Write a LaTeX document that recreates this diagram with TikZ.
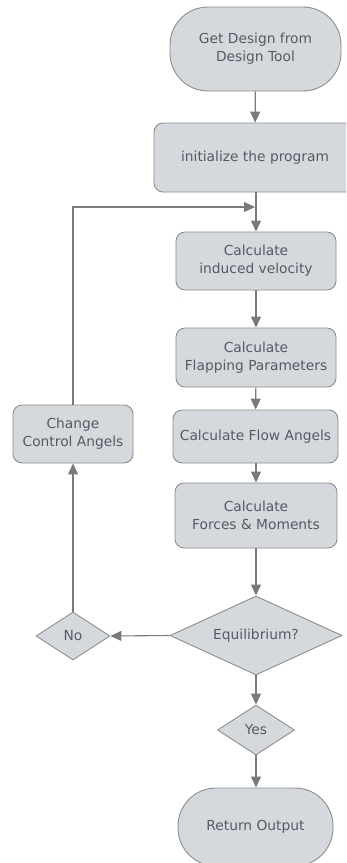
\documentclass[tikz,border=0pt]{standalone}
\usepackage{fontspec}
\setmainfont{DejaVu Sans}
\usetikzlibrary{shapes.geometric,arrows.meta}
\definecolor{boxfill}{HTML}{D5D9DE}
\definecolor{boxline}{HTML}{8E8E8E}
\definecolor{arrowc}{HTML}{7A7A7A}
\definecolor{textc}{HTML}{545B63}
\tikzset{
  base/.style={draw=boxline, fill=boxfill, line width=0.9pt, text=textc, align=center,
    font=\fontsize{13.8}{18}\selectfont, inner sep=0pt},
  procbox/.style={base, rectangle, rounded corners=9pt},
  termbox/.style={base, rectangle, rounded corners=38pt},
  decbox/.style={base, diamond},
  flow/.style={draw=arrowc, line width=1.1pt, -{Triangle[length=11pt,width=10pt]}},
}
\begin{document}
\begin{tikzpicture}[x=1pt,y=-1pt]
\clip (0,0) rectangle (346,863);
\fill[white] (0,0) rectangle (346,863);
\node[termbox, minimum width=171pt, minimum height=84pt] (start) at (255.5,49) {Get Design from\\Design Tool};
\node[procbox, minimum width=202pt, minimum height=69pt] (init) at (255,157.5) {initialize the program};
\node[procbox, minimum width=160pt, minimum height=58pt] (vel) at (256,261) {Calculate\\induced velocity};
\node[procbox, minimum width=160pt, minimum height=59pt] (flap) at (256,357.5) {Calculate\\Flapping Parameters};
\node[procbox, minimum width=165pt, minimum height=53pt] (flowa) at (255.5,436.5) {Calculate Flow Angels};
\node[procbox, minimum width=162pt, minimum height=65pt] (forces) at (256,515.5) {Calculate\\Forces \& Moments};
\node[decbox, minimum width=172pt, minimum height=79pt, shape aspect=2.18] (eq) at (256,635.5) {Equilibrium?};
\node[decbox, minimum width=74pt, minimum height=48pt, shape aspect=1.54] (no) at (73,636) {No};
\node[procbox, minimum width=120pt, minimum height=58pt] (change) at (73,434) {Change\\Control Angels};
\node[decbox, minimum width=77pt, minimum height=50pt, shape aspect=1.54] (yes) at (256,730) {Yes};
\node[termbox, minimum width=155pt, minimum height=78pt] (ret) at (255.5,827) {Return Output};
\coordinate (j) at (255,207);
\draw[flow] (start) -- (init);
\draw[flow] (init.south -| vel.north) -- (vel.north);
\draw[flow] (vel) -- (flap);
\draw[flow] (flap) -- (flowa);
\draw[flow] (flowa.south -| forces.north) -- (forces.north);
\draw[flow] (forces) -- (eq);
\draw[flow] (eq.west) -- (no.east);
\draw[flow] (no.north) -- (change.south);
\draw[flow] (change.north) |- (j);
\draw[flow] (eq.south) -- (yes.north);
\draw[flow] (yes.south) -- (ret.north -| yes.south);
\end{tikzpicture}
\end{document}
